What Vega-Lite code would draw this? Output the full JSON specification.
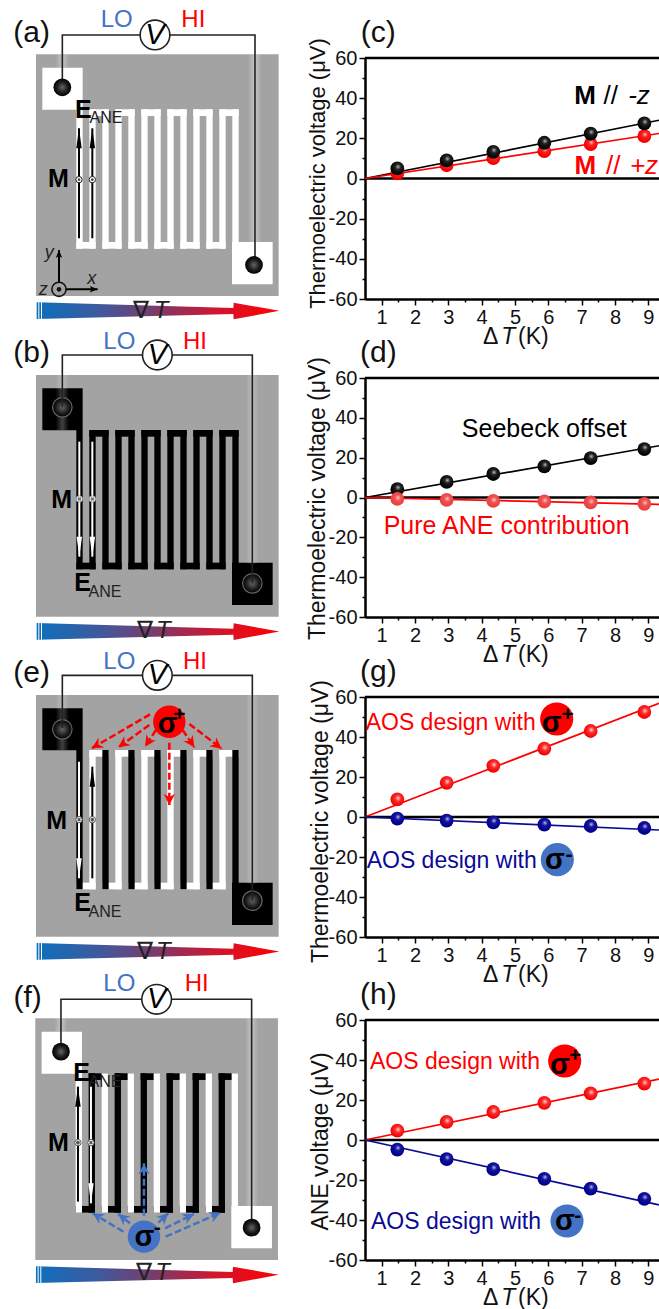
{"$schema":"https://vega.github.io/schema/vega-lite/v6.json","padding":0,"autosize":{"type":"pad"},"bounds":"flush","columns":2,"spacing":{"row":0,"column":65},"resolve":{"scale":{"color":"independent","fill":"independent","size":"independent","shape":"independent"}},
"config":{"font":"Liberation Sans","view":{"stroke":null},"legend":{"disable":true},"axis":{"grid":false,"domainColor":"#000","domainWidth":2.5,"tickColor":"#000","tickWidth":1.5,"labelFontSize":20,"labelColor":"#111","labelOverlap":false,"titleFontSize":23,"titleFontWeight":"normal","titleColor":"#111"}},
"datasets":{
"geom":[{"part":"sub","x":108,"x2":836,"y":135,"y2":860},{"part":"pad","x":127,"x2":248,"y":175,"y2":301},{"part":"pad","x":696,"x2":818,"y":698,"y2":825},
{"part":"conn","x":229,"x2":287,"y":698,"y2":718},{"part":"conn","x":307,"x2":365,"y":698,"y2":718},{"part":"conn","x":385,"x2":443,"y":698,"y2":718},{"part":"conn","x":463,"x2":521,"y":698,"y2":718},{"part":"conn","x":541,"x2":599,"y":698,"y2":718},{"part":"conn","x":619,"x2":677,"y":698,"y2":718},
{"part":"conn","x":268,"x2":326,"y":300,"y2":320},{"part":"conn","x":346,"x2":404,"y":300,"y2":320},{"part":"conn","x":424,"x2":482,"y":300,"y2":320},{"part":"conn","x":502,"x2":560,"y":300,"y2":320},{"part":"conn","x":580,"x2":638,"y":300,"y2":320},{"part":"conn","x":658,"x2":716,"y":300,"y2":320},
{"part":"even","x":229,"x2":248,"y":300,"y2":718},{"part":"odd","x":268,"x2":287,"y":300,"y2":718},{"part":"even","x":307,"x2":326,"y":300,"y2":718},{"part":"odd","x":346,"x2":365,"y":300,"y2":718},{"part":"even","x":385,"x2":404,"y":300,"y2":718},{"part":"odd","x":424,"x2":443,"y":300,"y2":718},{"part":"even","x":463,"x2":482,"y":300,"y2":718},{"part":"odd","x":502,"x2":521,"y":300,"y2":718},{"part":"even","x":541,"x2":560,"y":300,"y2":718},{"part":"odd","x":580,"x2":599,"y":300,"y2":718},{"part":"even","x":619,"x2":638,"y":300,"y2":718},{"part":"odd","x":658,"x2":677,"y":300,"y2":718},{"part":"even","x":697,"x2":716,"y":300,"y2":700}],
"halo":[{"panel":"a","x":167,"x2":207,"y":135,"y2":175},{"panel":"a","x":745,"x2":785,"y":135,"y2":702},{"panel":"b","x":167,"x2":207,"y":135,"y2":300},{"panel":"b","x":737,"x2":777,"y":135,"y2":700},{"panel":"e","x":167,"x2":207,"y":135,"y2":300},{"panel":"e","x":737,"x2":777,"y":135,"y2":700},{"panel":"f","x":165,"x2":205,"y":135,"y2":175},{"panel":"f","x":737,"x2":777,"y":135,"y2":700}],
"bar":[{"x":110,"y":879,"y2":929},{"x":700,"y":896,"y2":914},{"x":701,"y":880,"y2":930},{"x":838,"y":904.5,"y2":904.5}],
"stripes":[{"x":115,"x2":118,"y":879,"y2":929},{"x":123,"x2":126,"y":879,"y2":929}],
"wire":[{"panel":"a","o":1,"x":187,"y":234},{"panel":"a","o":2,"x":187,"y":77},{"panel":"a","o":3,"x":765,"y":77},{"panel":"a","o":4,"x":765,"y":767},{"panel":"b","o":1,"x":187,"y":232},{"panel":"b","o":2,"x":187,"y":75},{"panel":"b","o":3,"x":757,"y":75},{"panel":"b","o":4,"x":757,"y":760},{"panel":"e","o":1,"x":187,"y":234},{"panel":"e","o":2,"x":187,"y":76},{"panel":"e","o":3,"x":757,"y":76},{"panel":"e","o":4,"x":757,"y":752},{"panel":"f","o":1,"x":185,"y":235},{"panel":"f","o":2,"x":185,"y":78},{"panel":"f","o":3,"x":757,"y":78},{"panel":"f","o":4,"x":757,"y":763}],
"meter":[{"panel":"a","x":465,"y":77},{"panel":"b","x":472,"y":75},{"panel":"e","x":472,"y":76},{"panel":"f","x":472,"y":78}],
"terminals":[{"panel":"a","x":187,"y":234},{"panel":"a","x":762,"y":767},{"panel":"b","x":187,"y":232},{"panel":"b","x":757,"y":760},{"panel":"e","x":187,"y":238},{"panel":"e","x":757,"y":752},{"panel":"f","x":185,"y":235},{"panel":"f","x":757,"y":763}],
"moment":[{"panel":"a","kind":"black","x":237,"y":687,"x2":237,"y2":357,"angle":0},{"panel":"a","kind":"black","x":277,"y":687,"x2":277,"y2":357,"angle":0},{"panel":"b","kind":"white","x":238,"y":335,"x2":238,"y2":680,"angle":180},{"panel":"b","kind":"white","x":277,"y":335,"x2":277,"y2":680,"angle":180},{"panel":"e","kind":"white","x":237,"y":335,"x2":237,"y2":685,"angle":180},{"panel":"e","kind":"black","x":277,"y":685,"x2":277,"y2":350,"angle":0},{"panel":"f","kind":"black","x":236,"y":685,"x2":236,"y2":340,"angle":0},{"panel":"f","kind":"white","x":275,"y":340,"x2":275,"y2":690,"angle":180}],
"spins":[{"panel":"a","k":"dot","x":237,"y":511},{"panel":"a","k":"dot","x":277,"y":511},{"panel":"b","k":"cross","x":238,"y":507},{"panel":"b","k":"cross","x":277,"y":507},{"panel":"e","k":"cross","x":237,"y":509},{"panel":"e","k":"dot","x":277,"y":509},{"panel":"f","k":"dot","x":236,"y":508},{"panel":"f","k":"cross","x":275,"y":508}],
"frameAxes":[{"kind":"black","x":177,"y":840,"x2":177,"y2":722,"angle":0},{"kind":"black","x":177,"y":840,"x2":293,"y2":840,"angle":90}],
"beams":[{"panel":"e","kind":"red","x":450,"y":193,"x2":275,"y2":295,"angle":-120.2},{"panel":"e","kind":"red","x":448,"y":225,"x2":355,"y2":292,"angle":-125.8},{"panel":"e","kind":"red","x":468,"y":240,"x2":435,"y2":290,"angle":-146.6},{"panel":"e","kind":"red","x":548,"y":240,"x2":583,"y2":292,"angle":146},{"panel":"e","kind":"red","x":568,"y":222,"x2":665,"y2":296,"angle":127.3},{"panel":"e","kind":"red","x":508,"y":278,"x2":508,"y2":465,"angle":180},
{"panel":"f","kind":"blue","x":372,"y":775,"x2":280,"y2":720,"angle":-59.1},{"panel":"f","kind":"blue","x":392,"y":750,"x2":357,"y2":722,"angle":-51.3},{"panel":"f","kind":"blue","x":434,"y":727,"x2":434,"y2":570,"angle":0},{"panel":"f","kind":"blue","x":477,"y":748,"x2":507,"y2":720,"angle":47},{"panel":"f","kind":"blue","x":497,"y":765,"x2":584,"y2":722,"angle":63.7},{"panel":"f","kind":"blue","x":499,"y":790,"x2":664,"y2":718,"angle":66.4}],
"discs":[{"panel":"e","kind":"red","x":508,"y":215},{"panel":"f","kind":"blue","x":434,"y":790}],
"labels":[{"panel":"a","kind":"tag","x":95,"y":72,"label":"(a)"},{"panel":"a","kind":"lo","x":350,"y":32,"label":"LO"},{"panel":"a","kind":"hi","x":580,"y":32,"label":"HI"},{"panel":"a","kind":"sub","x":318,"y":327,"label":"ANE"},{"panel":"a","kind":"grad","x":424,"y":905,"label":"∇"},
{"panel":"b","kind":"tag","x":95,"y":70,"label":"(b)"},{"panel":"b","kind":"lo","x":358,"y":35,"label":"LO"},{"panel":"b","kind":"hi","x":585,"y":35,"label":"HI"},{"panel":"b","kind":"sub","x":315,"y":785,"label":"ANE"},{"panel":"b","kind":"grad","x":435,"y":903,"label":"∇"},
{"panel":"e","kind":"tag","x":95,"y":70,"label":"(e)"},{"panel":"e","kind":"lo","x":358,"y":35,"label":"LO"},{"panel":"e","kind":"hi","x":585,"y":35,"label":"HI"},{"panel":"e","kind":"sub","x":315,"y":785,"label":"ANE"},{"panel":"e","kind":"grad","x":435,"y":905,"label":"∇"},
{"panel":"f","kind":"tag","x":85,"y":75,"label":"(f)"},{"panel":"f","kind":"lo","x":360,"y":32,"label":"LO"},{"panel":"f","kind":"hi","x":592,"y":32,"label":"HI"},{"panel":"f","kind":"sub","x":317,"y":325,"label":"ANE"},{"panel":"f","kind":"grad","x":433,"y":900,"label":"∇"}],
"labelsItalic":[{"panel":"a","kind":"v","x":465,"y":77,"label":"V"},{"panel":"a","kind":"grad","x":483,"y":905,"label":"T"},{"panel":"a","kind":"ax","x":148,"y":732,"label":"y"},{"panel":"a","kind":"ax","x":275,"y":810,"label":"x"},{"panel":"a","kind":"ax","x":130,"y":842,"label":"z"},
{"panel":"b","kind":"v","x":472,"y":75,"label":"V"},{"panel":"b","kind":"grad","x":490,"y":903,"label":"T"},
{"panel":"e","kind":"v","x":472,"y":76,"label":"V"},{"panel":"e","kind":"grad","x":490,"y":905,"label":"T"},
{"panel":"f","kind":"v","x":472,"y":78,"label":"V"},{"panel":"f","kind":"grad","x":490,"y":900,"label":"T"}],
"labelsBold":[{"panel":"a","kind":"big","x":175,"y":509,"label":"M"},{"panel":"a","kind":"big","x":250,"y":302,"label":"E"},{"panel":"b","kind":"big","x":185,"y":510,"label":"M"},{"panel":"b","kind":"big","x":248,"y":758,"label":"E"},{"panel":"e","kind":"big","x":170,"y":512,"label":"M"},{"panel":"e","kind":"big","x":248,"y":758,"label":"E"},{"panel":"e","kind":"sigma","x":503,"y":222,"label":"σ"},{"panel":"e","kind":"sup","x":538,"y":195,"label":"+"},{"panel":"f","kind":"big","x":177,"y":510,"label":"M"},{"panel":"f","kind":"big","x":247,"y":300,"label":"E"},{"panel":"f","kind":"sigma","x":435,"y":790,"label":"σ"},{"panel":"f","kind":"sup","x":474,"y":765,"label":"-"}],
"edges":[{"dT":0.5,"v":60},{"dT":9.32,"v":60},{"dT":0.5,"v":0},{"dT":9.32,"v":0}],
"fits":[{"panel":"c","series":"M // -z","dT":0.5,"v":0},{"panel":"c","series":"M // -z","dT":9.32,"v":29},{"panel":"c","series":"M // +z","dT":0.5,"v":0},{"panel":"c","series":"M // +z","dT":9.32,"v":22.4},{"panel":"d","series":"Seebeck offset","dT":0.5,"v":0},{"panel":"d","series":"Seebeck offset","dT":9.32,"v":26},{"panel":"d","series":"Pure ANE contribution","dT":0.5,"v":0},{"panel":"d","series":"Pure ANE contribution","dT":9.32,"v":-3.5},{"panel":"g","series":"sigma+","dT":0.5,"v":0},{"panel":"g","series":"sigma+","dT":9.32,"v":56.8},{"panel":"g","series":"sigma-","dT":0.5,"v":0},{"panel":"g","series":"sigma-","dT":9.32,"v":-6.5},{"panel":"h","series":"sigma+","dT":0.5,"v":0},{"panel":"h","series":"sigma+","dT":9.32,"v":30.4},{"panel":"h","series":"sigma-","dT":0.5,"v":0},{"panel":"h","series":"sigma-","dT":9.32,"v":-32.4}],
"pts":[{"panel":"c","series":"M // -z","dT":1.47,"v":5},{"panel":"c","series":"M // -z","dT":2.95,"v":9},{"panel":"c","series":"M // -z","dT":4.35,"v":13.3},{"panel":"c","series":"M // -z","dT":5.88,"v":17.8},{"panel":"c","series":"M // -z","dT":7.27,"v":22.3},{"panel":"c","series":"M // -z","dT":8.88,"v":27.4},
{"panel":"c","series":"M // +z","dT":1.47,"v":2.6},{"panel":"c","series":"M // +z","dT":2.95,"v":6.6},{"panel":"c","series":"M // +z","dT":4.35,"v":10.1},{"panel":"c","series":"M // +z","dT":5.88,"v":13.6},{"panel":"c","series":"M // +z","dT":7.27,"v":17.1},{"panel":"c","series":"M // +z","dT":8.88,"v":21.1},
{"panel":"d","series":"Seebeck offset","dT":1.47,"v":4.2},{"panel":"d","series":"Seebeck offset","dT":2.95,"v":7.8},{"panel":"d","series":"Seebeck offset","dT":4.35,"v":11.8},{"panel":"d","series":"Seebeck offset","dT":5.88,"v":15.6},{"panel":"d","series":"Seebeck offset","dT":7.27,"v":19.8},{"panel":"d","series":"Seebeck offset","dT":8.88,"v":24.3},
{"panel":"d","series":"Pure ANE contribution","dT":1.47,"v":-0.7},{"panel":"d","series":"Pure ANE contribution","dT":2.95,"v":-1.2},{"panel":"d","series":"Pure ANE contribution","dT":4.35,"v":-1.7},{"panel":"d","series":"Pure ANE contribution","dT":5.88,"v":-2},{"panel":"d","series":"Pure ANE contribution","dT":7.27,"v":-2.5},{"panel":"d","series":"Pure ANE contribution","dT":8.88,"v":-3.2},
{"panel":"g","series":"sigma+","dT":1.47,"v":8.8},{"panel":"g","series":"sigma+","dT":2.95,"v":17.1},{"panel":"g","series":"sigma+","dT":4.35,"v":25.6},{"panel":"g","series":"sigma+","dT":5.88,"v":34.2},{"panel":"g","series":"sigma+","dT":7.27,"v":43},{"panel":"g","series":"sigma+","dT":8.88,"v":52.5},
{"panel":"g","series":"sigma-","dT":1.47,"v":-0.8},{"panel":"g","series":"sigma-","dT":2.95,"v":-1.8},{"panel":"g","series":"sigma-","dT":4.35,"v":-2.7},{"panel":"g","series":"sigma-","dT":5.88,"v":-3.8},{"panel":"g","series":"sigma-","dT":7.27,"v":-4.5},{"panel":"g","series":"sigma-","dT":8.88,"v":-5.5},
{"panel":"h","series":"sigma+","dT":1.47,"v":4.7},{"panel":"h","series":"sigma+","dT":2.95,"v":9.1},{"panel":"h","series":"sigma+","dT":4.35,"v":14},{"panel":"h","series":"sigma+","dT":5.88,"v":18.6},{"panel":"h","series":"sigma+","dT":7.27,"v":23.3},{"panel":"h","series":"sigma+","dT":8.88,"v":28.2},
{"panel":"h","series":"sigma-","dT":1.47,"v":-4.8},{"panel":"h","series":"sigma-","dT":2.95,"v":-9.6},{"panel":"h","series":"sigma-","dT":4.35,"v":-14.6},{"panel":"h","series":"sigma-","dT":5.88,"v":-19.4},{"panel":"h","series":"sigma-","dT":7.27,"v":-24.3},{"panel":"h","series":"sigma-","dT":8.88,"v":-29.4}],
"xTitle":[{"dT":4.27,"v":-79,"label":"Δ"},{"dT":5.55,"v":-79,"label":"(K)"}],
"xTitleT":[{"dT":4.8,"v":-79,"label":"T"}]
},
"concat":[
{"width":300,"height":299,"encoding":{"x":{"field":"x","type":"quantitative","axis":null,"scale":{"domain":[0,900],"range":[0,300],"nice":false,"zero":false}},"y":{"field":"y","type":"quantitative","axis":null,"scale":{"domain":[0,960],"range":[9.3,329.3],"nice":false,"zero":false}},"size":{"field":"kind","type":"nominal","scale":{"type":"ordinal","domain":["tag","lo","hi","sub","big","v","ax","grad","sigma","sup"],"range":[30,24,24,16,25,29,18,24,29,21]}}},
"layer":[
{"data":{"name":"geom"},"mark":"rect","encoding":{"size":null,"x2":{"field":"x2"},"y2":{"field":"y2"},"fill":{"field":"part","type":"nominal","scale":{"domain":["sub","pad","conn","even","odd"],"range":["#a3a3a3","#fff","#fff","#fff","#fff"]}}}},
{"data":{"name":"halo"},"transform":[{"filter":"datum.panel=='a'"}],"mark":{"type":"rect","color":{"gradient":"linear","x1":0,"x2":1,"y1":0,"y2":0,"stops":[{"offset":0,"color":"rgba(255,255,255,0)"},{"offset":0.5,"color":"rgba(255,255,255,0.35)"},{"offset":1,"color":"rgba(255,255,255,0)"}]}},"encoding":{"size":null,"x2":{"field":"x2"},"y2":{"field":"y2"}}},
{"data":{"name":"bar"},"mark":{"type":"area","color":{"gradient":"linear","x1":0,"x2":1,"y1":0,"y2":0,"stops":[{"offset":0,"color":"#0c70bd"},{"offset":0.25,"color":"#3d5a9f"},{"offset":0.5,"color":"#7d3a68"},{"offset":0.75,"color":"#d4142c"},{"offset":1,"color":"#ff0000"}]}},"encoding":{"size":null,"y2":{"field":"y2"}}},
{"data":{"name":"stripes"},"mark":{"type":"rect","color":"#fff"},"encoding":{"size":null,"x2":{"field":"x2"},"y2":{"field":"y2"}}},
{"data":{"name":"wire"},"transform":[{"filter":"datum.panel=='a'"}],"mark":{"type":"line","color":"#222","strokeWidth":1.6},"encoding":{"size":null,"order":{"field":"o"}}},
{"data":{"name":"meter"},"transform":[{"filter":"datum.panel=='a'"}],"mark":{"type":"circle","size":880,"fill":"#fff","stroke":"#222","strokeWidth":1.6,"opacity":1},"encoding":{"size":null}},
{"data":{"name":"terminals"},"transform":[{"filter":"datum.panel=='a'"}],"mark":{"type":"circle","size":314,"opacity":1,"fill":{"gradient":"radial","x1":0.5,"y1":0.5,"x2":0.5,"y2":0.5,"r1":0,"r2":0.5,"stops":[{"offset":0,"color":"#666"},{"offset":0.55,"color":"#222"},{"offset":1,"color":"#000"}]}},"encoding":{"size":null}},
{"data":{"name":"moment"},"transform":[{"filter":"datum.panel=='a'"}],"mark":{"type":"rule","strokeWidth":2},"encoding":{"size":null,"x2":{"field":"x2"},"y2":{"field":"y2"},"color":{"field":"kind","type":"nominal"}}},
{"data":{"name":"moment"},"transform":[{"filter":"datum.panel=='a'"}],"mark":{"type":"point","shape":"M0,0L0.27,2L-0.27,2Z","filled":true,"opacity":1,"size":400},"encoding":{"size":null,"x":{"field":"x2","type":"quantitative","axis":null},"y":{"field":"y2","type":"quantitative","axis":null},"angle":{"field":"angle","type":"quantitative","scale":null},"color":{"field":"kind","type":"nominal"}}},
{"data":{"name":"spins"},"transform":[{"filter":"datum.panel=='a'"}],"mark":{"type":"circle","size":40,"fill":"#fff","stroke":"#222","strokeWidth":1,"opacity":1},"encoding":{"size":null}},
{"data":{"name":"spins"},"transform":[{"filter":"datum.panel=='a'"}],"mark":{"type":"point","size":7,"filled":true,"opacity":1,"color":"#333","angle":45},"encoding":{"size":null,"shape":{"field":"k","type":"nominal","scale":{"domain":["dot","cross"],"range":["circle","cross"]}}}},
{"data":{"name":"frameAxes"},"mark":{"type":"rule","strokeWidth":2},"encoding":{"size":null,"x2":{"field":"x2"},"y2":{"field":"y2"},"color":{"field":"kind","type":"nominal"}}},
{"data":{"name":"frameAxes"},"mark":{"type":"point","shape":"M0,0L0.8,2L0,1.5L-0.8,2Z","filled":true,"opacity":1,"size":64},"encoding":{"size":null,"x":{"field":"x2","type":"quantitative","axis":null},"y":{"field":"y2","type":"quantitative","axis":null},"angle":{"field":"angle","type":"quantitative","scale":null},"color":{"field":"kind","type":"nominal"}}},
{"data":{"values":[{"x":177,"y":840}]},"mark":{"type":"circle","size":200,"fill":"#a3a3a3","stroke":"#111","strokeWidth":1.6,"opacity":1},"encoding":{"size":null}},
{"data":{"values":[{"x":177,"y":840}]},"mark":{"type":"circle","size":22,"color":"#111","opacity":1},"encoding":{"size":null}},
{"data":{"name":"labels"},"transform":[{"filter":"datum.panel=='a'"}],"mark":{"type":"text","baseline":"middle"},"encoding":{"text":{"field":"label"},"color":{"field":"kind","type":"nominal","scale":{"domain":["tag","lo","hi","sub","big","v","ax","grad","sigma","sup","black","white","red","blue"],"range":["#111","#4472c4","#ff0000","#222","#000","#000","#222","#222","#000","#000","#000","#fff","#ff0000","#4472c4"]}}}},
{"data":{"name":"labelsItalic"},"transform":[{"filter":"datum.panel=='a'"}],"mark":{"type":"text","baseline":"middle","fontStyle":"italic"},"encoding":{"text":{"field":"label"},"color":{"field":"kind","type":"nominal"}}},
{"data":{"name":"labelsBold"},"transform":[{"filter":"datum.panel=='a'"}],"mark":{"type":"text","baseline":"middle","fontWeight":"bold"},"encoding":{"text":{"field":"label"},"color":{"field":"kind","type":"nominal"}}}
]},
{"width":294,"height":299,"encoding":{"x":{"field":"dT","type":"quantitative","scale":{"domain":[0.5,9.32],"nice":false,"zero":false},"axis":{"title":null,"values":[1,1.5,2,2.5,3,3.5,4,4.5,5,5.5,6,6.5,7,7.5,8,8.5,9],"labelExpr":"datum.value%1===0?toString(datum.value):''","tickSize":{"condition":{"test":"datum.value%1!==0","value":3},"value":6}}},"y":{"field":"v","type":"quantitative","scale":{"domain":[-60,60],"range":[299,58],"nice":false,"zero":false},"axis":{"title":"Thermoelectric voltage (μV)","titleFontSize":22,"titleBaseline":"middle","titleX":-48,"titleY":173,"values":[-60,-50,-40,-30,-20,-10,0,10,20,30,40,50,60],"labelExpr":"datum.value%20===0?toString(datum.value):''","tickSize":{"condition":{"test":"datum.value%20!==0","value":3},"value":6}}}},
"layer":[
{"data":{"name":"edges"},"mark":{"type":"line","color":"#000","strokeWidth":2.5},"encoding":{"detail":{"field":"v","type":"quantitative"}}},
{"data":{"name":"fits"},"transform":[{"filter":"datum.panel=='c'"}],"mark":{"type":"line","strokeWidth":1.7},"encoding":{"color":{"field":"series","type":"nominal","scale":{"domain":["M // -z","M // +z"],"range":["#000","#ff0000"]}}}},
{"data":{"name":"pts"},"transform":[{"filter":"datum.panel=='c'&&datum.series=='M // +z'"}],"mark":{"type":"circle","size":190,"opacity":1,"fill":{"gradient":"radial","x1":0.55,"y1":0.38,"x2":0.55,"y2":0.38,"r1":0,"r2":0.55,"stops":[{"offset":0,"color":"#ffd0d0"},{"offset":0.35,"color":"#ff2020"},{"offset":1,"color":"#f00000"}]}}},
{"data":{"name":"pts"},"transform":[{"filter":"datum.panel=='c'&&datum.series=='M // -z'"}],"mark":{"type":"circle","size":190,"opacity":1,"fill":{"gradient":"radial","x1":0.55,"y1":0.38,"x2":0.55,"y2":0.38,"r1":0,"r2":0.55,"stops":[{"offset":0,"color":"#c0c0c0"},{"offset":0.35,"color":"#222"},{"offset":1,"color":"#000"}]}}},
{"data":{"values":[{"dT":0.9,"v":72.6,"label":"(c)"}]},"mark":{"type":"text","fontSize":30,"baseline":"middle","color":"#111"},"encoding":{"text":{"field":"label"}}},
{"data":{"name":"xTitle"},"mark":{"type":"text","fontSize":23,"baseline":"middle","color":"#111"},"encoding":{"text":{"field":"label"}}},
{"data":{"name":"xTitleT"},"mark":{"type":"text","fontSize":23,"baseline":"middle","fontStyle":"italic","color":"#111"},"encoding":{"text":{"field":"label"}}},
{"data":{"values":[{"dT":7.1,"v":41,"label":"M","series":"M // -z"},{"dT":7.11,"v":6.1,"label":"M","series":"M // +z"}]},"mark":{"type":"text","fontSize":26,"fontWeight":"bold","baseline":"middle"},"encoding":{"text":{"field":"label"},"color":{"field":"series","type":"nominal"}}},
{"data":{"values":[{"dT":7.87,"v":41,"label":"//","series":"M // -z"},{"dT":7.95,"v":6.1,"label":"//","series":"M // +z"}]},"mark":{"type":"text","fontSize":26,"baseline":"middle"},"encoding":{"text":{"field":"label"},"color":{"field":"series","type":"nominal"}}},
{"data":{"values":[{"dT":8.72,"v":41,"label":"-z","series":"M // -z"},{"dT":8.87,"v":6.1,"label":"+z","series":"M // +z"}]},"mark":{"type":"text","fontSize":26,"fontStyle":"italic","baseline":"middle"},"encoding":{"text":{"field":"label"},"color":{"field":"series","type":"nominal"}}}
]},
{"width":300,"height":318,"encoding":{"x":{"field":"x","type":"quantitative","axis":null,"scale":{"domain":[0,900],"range":[0,300],"nice":false,"zero":false}},"y":{"field":"y","type":"quantitative","axis":null,"scale":{"domain":[0,960],"range":[31,351],"nice":false,"zero":false}},"size":{"field":"kind","type":"nominal","scale":{"type":"ordinal","domain":["tag","lo","hi","sub","big","v","ax","grad","sigma","sup"],"range":[30,24,24,16,25,29,18,24,29,21]}}},
"layer":[
{"data":{"name":"geom"},"mark":"rect","encoding":{"size":null,"x2":{"field":"x2"},"y2":{"field":"y2"},"fill":{"field":"part","type":"nominal","scale":{"domain":["sub","pad","conn","even","odd"],"range":["#a3a3a3","#000","#000","#000","#000"]}}}},
{"data":{"name":"halo"},"transform":[{"filter":"datum.panel=='b'"}],"mark":{"type":"rect","color":{"gradient":"linear","x1":0,"x2":1,"y1":0,"y2":0,"stops":[{"offset":0,"color":"rgba(255,255,255,0)"},{"offset":0.5,"color":"rgba(255,255,255,0.25)"},{"offset":1,"color":"rgba(255,255,255,0)"}]}},"encoding":{"size":null,"x2":{"field":"x2"},"y2":{"field":"y2"}}},
{"data":{"name":"bar"},"mark":{"type":"area","color":{"gradient":"linear","x1":0,"x2":1,"y1":0,"y2":0,"stops":[{"offset":0,"color":"#0c70bd"},{"offset":0.25,"color":"#3d5a9f"},{"offset":0.5,"color":"#7d3a68"},{"offset":0.75,"color":"#d4142c"},{"offset":1,"color":"#ff0000"}]}},"encoding":{"size":null,"y2":{"field":"y2"}}},
{"data":{"name":"stripes"},"mark":{"type":"rect","color":"#fff"},"encoding":{"size":null,"x2":{"field":"x2"},"y2":{"field":"y2"}}},
{"data":{"name":"terminals"},"transform":[{"filter":"datum.panel=='b'"}],"mark":{"type":"circle","size":380,"opacity":1,"stroke":"#666","strokeWidth":1.2,"fill":{"gradient":"radial","x1":0.5,"y1":0.5,"x2":0.5,"y2":0.5,"r1":0,"r2":0.5,"stops":[{"offset":0,"color":"#666"},{"offset":0.6,"color":"#222"},{"offset":1,"color":"#000"}]}},"encoding":{"size":null}},
{"data":{"name":"wire"},"transform":[{"filter":"datum.panel=='b'"}],"mark":{"type":"line","color":"#222","strokeWidth":1.6},"encoding":{"size":null,"order":{"field":"o"}}},
{"data":{"name":"meter"},"transform":[{"filter":"datum.panel=='b'"}],"mark":{"type":"circle","size":880,"fill":"#fff","stroke":"#222","strokeWidth":1.6,"opacity":1},"encoding":{"size":null}},
{"data":{"name":"moment"},"transform":[{"filter":"datum.panel=='b'"}],"mark":{"type":"rule","strokeWidth":2},"encoding":{"size":null,"x2":{"field":"x2"},"y2":{"field":"y2"},"color":{"field":"kind","type":"nominal"}}},
{"data":{"name":"moment"},"transform":[{"filter":"datum.panel=='b'"}],"mark":{"type":"point","shape":"M0,0L0.27,2L-0.27,2Z","filled":true,"opacity":1,"size":400},"encoding":{"size":null,"x":{"field":"x2","type":"quantitative","axis":null},"y":{"field":"y2","type":"quantitative","axis":null},"angle":{"field":"angle","type":"quantitative","scale":null},"color":{"field":"kind","type":"nominal"}}},
{"data":{"name":"spins"},"transform":[{"filter":"datum.panel=='b'"}],"mark":{"type":"circle","size":40,"fill":"#fff","stroke":"#999","strokeWidth":1,"opacity":1},"encoding":{"size":null}},
{"data":{"name":"spins"},"transform":[{"filter":"datum.panel=='b'"}],"mark":{"type":"point","size":16,"filled":true,"opacity":1,"color":"#777","angle":45},"encoding":{"size":null,"shape":{"field":"k","type":"nominal","scale":{"domain":["dot","cross"],"range":["circle","cross"]}}}},
{"data":{"name":"labels"},"transform":[{"filter":"datum.panel=='b'"}],"mark":{"type":"text","baseline":"middle"},"encoding":{"text":{"field":"label"},"color":{"field":"kind","type":"nominal","scale":{"domain":["tag","lo","hi","sub","big","v","ax","grad","sigma","sup","black","white","red","blue"],"range":["#111","#4472c4","#ff0000","#222","#000","#000","#222","#222","#000","#000","#000","#fff","#ff0000","#4472c4"]}}}},
{"data":{"name":"labelsItalic"},"transform":[{"filter":"datum.panel=='b'"}],"mark":{"type":"text","baseline":"middle","fontStyle":"italic"},"encoding":{"text":{"field":"label"},"color":{"field":"kind","type":"nominal"}}},
{"data":{"name":"labelsBold"},"transform":[{"filter":"datum.panel=='b'"}],"mark":{"type":"text","baseline":"middle","fontWeight":"bold"},"encoding":{"text":{"field":"label"},"color":{"field":"kind","type":"nominal"}}}
]},
{"width":294,"height":318,"encoding":{"x":{"field":"dT","type":"quantitative","scale":{"domain":[0.5,9.32],"nice":false,"zero":false},"axis":{"title":null,"values":[1,1.5,2,2.5,3,3.5,4,4.5,5,5.5,6,6.5,7,7.5,8,8.5,9],"labelExpr":"datum.value%1===0?toString(datum.value):''","tickSize":{"condition":{"test":"datum.value%1!==0","value":3},"value":6}}},"y":{"field":"v","type":"quantitative","scale":{"domain":[-60,60],"range":[318,79],"nice":false,"zero":false},"axis":{"title":"Thermoelectric voltage (μV)","titleBaseline":"middle","titleX":-48,"titleY":199,"values":[-60,-50,-40,-30,-20,-10,0,10,20,30,40,50,60],"labelExpr":"datum.value%20===0?toString(datum.value):''","tickSize":{"condition":{"test":"datum.value%20!==0","value":3},"value":6}}}},
"layer":[
{"data":{"name":"edges"},"mark":{"type":"line","color":"#000","strokeWidth":2.5},"encoding":{"detail":{"field":"v","type":"quantitative"}}},
{"data":{"name":"fits"},"transform":[{"filter":"datum.panel=='d'"}],"mark":{"type":"line","strokeWidth":1.7},"encoding":{"color":{"field":"series","type":"nominal","scale":{"domain":["Seebeck offset","Pure ANE contribution"],"range":["#000","#ff0000"]}}}},
{"data":{"name":"pts"},"transform":[{"filter":"datum.panel=='d'&&datum.series=='Seebeck offset'"}],"mark":{"type":"circle","size":190,"opacity":1,"fill":{"gradient":"radial","x1":0.55,"y1":0.38,"x2":0.55,"y2":0.38,"r1":0,"r2":0.55,"stops":[{"offset":0,"color":"#c0c0c0"},{"offset":0.35,"color":"#222"},{"offset":1,"color":"#000"}]}}},
{"data":{"name":"pts"},"transform":[{"filter":"datum.panel=='d'&&datum.series=='Pure ANE contribution'"}],"mark":{"type":"circle","size":190,"opacity":1,"fill":{"gradient":"radial","x1":0.55,"y1":0.42,"x2":0.55,"y2":0.42,"r1":0,"r2":0.55,"stops":[{"offset":0,"color":"#ffc8c8"},{"offset":0.4,"color":"#f05050"},{"offset":1,"color":"#e84040"}]}}},
{"data":{"values":[{"dT":0.9,"v":72.6,"label":"(d)"}]},"mark":{"type":"text","fontSize":30,"baseline":"middle","color":"#111"},"encoding":{"text":{"field":"label"}}},
{"data":{"name":"xTitle"},"mark":{"type":"text","fontSize":23,"baseline":"middle","color":"#111"},"encoding":{"text":{"field":"label"}}},
{"data":{"name":"xTitleT"},"mark":{"type":"text","fontSize":23,"baseline":"middle","fontStyle":"italic","color":"#111"},"encoding":{"text":{"field":"label"}}},
{"data":{"values":[{"dT":5.88,"v":34.4,"label":"Seebeck offset","series":"Seebeck offset"},{"dT":4.75,"v":-14.3,"label":"Pure ANE contribution","series":"Pure ANE contribution"}]},"mark":{"type":"text","fontSize":25,"baseline":"middle"},"encoding":{"text":{"field":"label"},"color":{"field":"series","type":"nominal"}}}
]},
{"width":300,"height":320,"encoding":{"x":{"field":"x","type":"quantitative","axis":null,"scale":{"domain":[0,900],"range":[0,300],"nice":false,"zero":false}},"y":{"field":"y","type":"quantitative","axis":null,"scale":{"domain":[0,960],"range":[33,353],"nice":false,"zero":false}},"size":{"field":"kind","type":"nominal","scale":{"type":"ordinal","domain":["tag","lo","hi","sub","big","v","ax","grad","sigma","sup"],"range":[30,24,24,16,25,29,18,24,29,21]}}},
"layer":[
{"data":{"name":"geom"},"mark":"rect","encoding":{"size":null,"x2":{"field":"x2"},"y2":{"field":"y2"},"fill":{"field":"part","type":"nominal","scale":{"domain":["sub","pad","conn","even","odd"],"range":["#a3a3a3","#000","#fff","#000","#fff"]}}}},
{"data":{"name":"halo"},"transform":[{"filter":"datum.panel=='e'"}],"mark":{"type":"rect","color":{"gradient":"linear","x1":0,"x2":1,"y1":0,"y2":0,"stops":[{"offset":0,"color":"rgba(255,255,255,0)"},{"offset":0.5,"color":"rgba(255,255,255,0.25)"},{"offset":1,"color":"rgba(255,255,255,0)"}]}},"encoding":{"size":null,"x2":{"field":"x2"},"y2":{"field":"y2"}}},
{"data":{"name":"bar"},"mark":{"type":"area","color":{"gradient":"linear","x1":0,"x2":1,"y1":0,"y2":0,"stops":[{"offset":0,"color":"#0c70bd"},{"offset":0.25,"color":"#3d5a9f"},{"offset":0.5,"color":"#7d3a68"},{"offset":0.75,"color":"#d4142c"},{"offset":1,"color":"#ff0000"}]}},"encoding":{"size":null,"y2":{"field":"y2"}}},
{"data":{"name":"stripes"},"mark":{"type":"rect","color":"#fff"},"encoding":{"size":null,"x2":{"field":"x2"},"y2":{"field":"y2"}}},
{"data":{"name":"terminals"},"transform":[{"filter":"datum.panel=='e'"}],"mark":{"type":"circle","size":380,"opacity":1,"stroke":"#666","strokeWidth":1.2,"fill":{"gradient":"radial","x1":0.5,"y1":0.5,"x2":0.5,"y2":0.5,"r1":0,"r2":0.5,"stops":[{"offset":0,"color":"#666"},{"offset":0.6,"color":"#222"},{"offset":1,"color":"#000"}]}},"encoding":{"size":null}},
{"data":{"name":"wire"},"transform":[{"filter":"datum.panel=='e'"}],"mark":{"type":"line","color":"#222","strokeWidth":1.6},"encoding":{"size":null,"order":{"field":"o"}}},
{"data":{"name":"meter"},"transform":[{"filter":"datum.panel=='e'"}],"mark":{"type":"circle","size":880,"fill":"#fff","stroke":"#222","strokeWidth":1.6,"opacity":1},"encoding":{"size":null}},
{"data":{"name":"moment"},"transform":[{"filter":"datum.panel=='e'"}],"mark":{"type":"rule","strokeWidth":2},"encoding":{"size":null,"x2":{"field":"x2"},"y2":{"field":"y2"},"color":{"field":"kind","type":"nominal"}}},
{"data":{"name":"moment"},"transform":[{"filter":"datum.panel=='e'"}],"mark":{"type":"point","shape":"M0,0L0.27,2L-0.27,2Z","filled":true,"opacity":1,"size":400},"encoding":{"size":null,"x":{"field":"x2","type":"quantitative","axis":null},"y":{"field":"y2","type":"quantitative","axis":null},"angle":{"field":"angle","type":"quantitative","scale":null},"color":{"field":"kind","type":"nominal"}}},
{"data":{"name":"spins"},"transform":[{"filter":"datum.panel=='e'"}],"mark":{"type":"circle","size":40,"fill":"#fff","stroke":"#555","strokeWidth":1,"opacity":1},"encoding":{"size":null}},
{"data":{"name":"spins"},"transform":[{"filter":"datum.panel=='e'"}],"mark":{"type":"point","size":14,"filled":true,"opacity":1,"color":"#555","angle":45},"encoding":{"size":null,"shape":{"field":"k","type":"nominal","scale":{"domain":["dot","cross"],"range":["circle","cross"]}}}},
{"data":{"name":"beams"},"transform":[{"filter":"datum.panel=='e'"}],"mark":{"type":"rule","strokeWidth":2.5,"strokeDash":[7,3]},"encoding":{"size":null,"x2":{"field":"x2"},"y2":{"field":"y2"},"color":{"field":"kind","type":"nominal"}}},
{"data":{"name":"beams"},"transform":[{"filter":"datum.panel=='e'"}],"mark":{"type":"point","shape":"M0,0L0.8,1.6L0,1.1L-0.8,1.6Z","filled":true,"opacity":1,"size":200},"encoding":{"size":null,"x":{"field":"x2","type":"quantitative","axis":null},"y":{"field":"y2","type":"quantitative","axis":null},"angle":{"field":"angle","type":"quantitative","scale":null},"color":{"field":"kind","type":"nominal"}}},
{"data":{"name":"discs"},"transform":[{"filter":"datum.panel=='e'"}],"mark":{"type":"circle","size":1052,"opacity":1},"encoding":{"size":null,"color":{"field":"kind","type":"nominal"}}},
{"data":{"name":"labels"},"transform":[{"filter":"datum.panel=='e'"}],"mark":{"type":"text","baseline":"middle"},"encoding":{"text":{"field":"label"},"color":{"field":"kind","type":"nominal","scale":{"domain":["tag","lo","hi","sub","big","v","ax","grad","sigma","sup","black","white","red","blue"],"range":["#111","#4472c4","#ff0000","#222","#000","#000","#222","#222","#000","#000","#000","#fff","#ff0000","#4472c4"]}}}},
{"data":{"name":"labelsItalic"},"transform":[{"filter":"datum.panel=='e'"}],"mark":{"type":"text","baseline":"middle","fontStyle":"italic"},"encoding":{"text":{"field":"label"},"color":{"field":"kind","type":"nominal"}}},
{"data":{"name":"labelsBold"},"transform":[{"filter":"datum.panel=='e'"}],"mark":{"type":"text","baseline":"middle","fontWeight":"bold"},"encoding":{"text":{"field":"label"},"color":{"field":"kind","type":"nominal"}}}
]},
{"width":294,"height":320,"encoding":{"x":{"field":"dT","type":"quantitative","scale":{"domain":[0.5,9.32],"nice":false,"zero":false},"axis":{"title":null,"values":[1,1.5,2,2.5,3,3.5,4,4.5,5,5.5,6,6.5,7,7.5,8,8.5,9],"labelExpr":"datum.value%1===0?toString(datum.value):''","tickSize":{"condition":{"test":"datum.value%1!==0","value":3},"value":6}}},"y":{"field":"v","type":"quantitative","scale":{"domain":[-60,60],"range":[320,80],"nice":false,"zero":false},"axis":{"title":"Thermoelectric voltage (μV)","titleBaseline":"middle","titleX":-45,"titleY":204,"values":[-60,-50,-40,-30,-20,-10,0,10,20,30,40,50,60],"labelExpr":"datum.value%20===0?toString(datum.value):''","tickSize":{"condition":{"test":"datum.value%20!==0","value":3},"value":6}}}},
"layer":[
{"data":{"name":"edges"},"mark":{"type":"line","color":"#000","strokeWidth":2.5},"encoding":{"detail":{"field":"v","type":"quantitative"}}},
{"data":{"name":"fits"},"transform":[{"filter":"datum.panel=='g'"}],"mark":{"type":"line","strokeWidth":1.7},"encoding":{"color":{"field":"series","type":"nominal","scale":{"domain":["sigma+","sigma-"],"range":["#ff0000","#0a0a96"]}}}},
{"data":{"name":"pts"},"transform":[{"filter":"datum.panel=='g'&&datum.series=='sigma+'"}],"mark":{"type":"circle","size":190,"opacity":1,"fill":{"gradient":"radial","x1":0.55,"y1":0.42,"x2":0.55,"y2":0.42,"r1":0,"r2":0.55,"stops":[{"offset":0,"color":"#ffd8d8"},{"offset":0.4,"color":"#ff2a2a"},{"offset":1,"color":"#f00000"}]}}},
{"data":{"name":"pts"},"transform":[{"filter":"datum.panel=='g'&&datum.series=='sigma-'"}],"mark":{"type":"circle","size":190,"opacity":1,"fill":{"gradient":"radial","x1":0.55,"y1":0.38,"x2":0.55,"y2":0.38,"r1":0,"r2":0.55,"stops":[{"offset":0,"color":"#c8c8f0"},{"offset":0.35,"color":"#14149c"},{"offset":1,"color":"#00008b"}]}}},
{"data":{"values":[{"dT":6.25,"v":49}]},"mark":{"type":"circle","size":1098,"opacity":1,"color":"#ff0000"}},
{"data":{"values":[{"dT":6.27,"v":-21.3}]},"mark":{"type":"circle","size":1098,"opacity":1,"color":"#4472c4"}},
{"data":{"values":[{"dT":0.9,"v":72.6,"label":"(g)"}]},"mark":{"type":"text","fontSize":30,"baseline":"middle","color":"#111"},"encoding":{"text":{"field":"label"}}},
{"data":{"name":"xTitle"},"mark":{"type":"text","fontSize":23,"baseline":"middle","color":"#111"},"encoding":{"text":{"field":"label"}}},
{"data":{"name":"xTitleT"},"mark":{"type":"text","fontSize":23,"baseline":"middle","fontStyle":"italic","color":"#111"},"encoding":{"text":{"field":"label"}}},
{"data":{"values":[{"dT":3.07,"v":47.2,"label":"AOS design with","series":"sigma+"},{"dT":3.1,"v":-21.9,"label":"AOS design with","series":"sigma-"}]},"mark":{"type":"text","fontSize":23,"baseline":"middle"},"encoding":{"text":{"field":"label"},"color":{"field":"series","type":"nominal"}}},
{"data":{"values":[{"dT":6.1,"v":47.2,"label":"σ"},{"dT":6.2,"v":-21.3,"label":"σ"}]},"mark":{"type":"text","fontSize":29,"fontWeight":"bold","baseline":"middle","color":"#000"},"encoding":{"text":{"field":"label"}}},
{"data":{"values":[{"dT":6.58,"v":51,"label":"+"},{"dT":6.62,"v":-19,"label":"-"}]},"mark":{"type":"text","fontSize":21,"fontWeight":"bold","baseline":"middle","color":"#000"},"encoding":{"text":{"field":"label"}}}
]},
{"width":300,"height":323,"encoding":{"x":{"field":"x","type":"quantitative","axis":null,"scale":{"domain":[0,900],"range":[-0.7,299.3],"nice":false,"zero":false}},"y":{"field":"y","type":"quantitative","axis":null,"scale":{"domain":[0,960],"range":[36.3,356.3],"nice":false,"zero":false}},"size":{"field":"kind","type":"nominal","scale":{"type":"ordinal","domain":["tag","lo","hi","sub","big","v","ax","grad","sigma","sup"],"range":[30,24,24,16,25,29,18,24,29,21]}}},
"layer":[
{"data":{"name":"geom"},"mark":"rect","encoding":{"size":null,"x2":{"field":"x2"},"y2":{"field":"y2"},"fill":{"field":"part","type":"nominal","scale":{"domain":["sub","pad","conn","even","odd"],"range":["#a3a3a3","#fff","#000","#fff","#000"]}}}},
{"data":{"name":"halo"},"transform":[{"filter":"datum.panel=='f'"}],"mark":{"type":"rect","color":{"gradient":"linear","x1":0,"x2":1,"y1":0,"y2":0,"stops":[{"offset":0,"color":"rgba(255,255,255,0)"},{"offset":0.5,"color":"rgba(255,255,255,0.35)"},{"offset":1,"color":"rgba(255,255,255,0)"}]}},"encoding":{"size":null,"x2":{"field":"x2"},"y2":{"field":"y2"}}},
{"data":{"name":"bar"},"mark":{"type":"area","color":{"gradient":"linear","x1":0,"x2":1,"y1":0,"y2":0,"stops":[{"offset":0,"color":"#0c70bd"},{"offset":0.25,"color":"#3d5a9f"},{"offset":0.5,"color":"#7d3a68"},{"offset":0.75,"color":"#d4142c"},{"offset":1,"color":"#ff0000"}]}},"encoding":{"size":null,"y2":{"field":"y2"}}},
{"data":{"name":"stripes"},"mark":{"type":"rect","color":"#fff"},"encoding":{"size":null,"x2":{"field":"x2"},"y2":{"field":"y2"}}},
{"data":{"name":"wire"},"transform":[{"filter":"datum.panel=='f'"}],"mark":{"type":"line","color":"#222","strokeWidth":1.6},"encoding":{"size":null,"order":{"field":"o"}}},
{"data":{"name":"meter"},"transform":[{"filter":"datum.panel=='f'"}],"mark":{"type":"circle","size":880,"fill":"#fff","stroke":"#222","strokeWidth":1.6,"opacity":1},"encoding":{"size":null}},
{"data":{"name":"terminals"},"transform":[{"filter":"datum.panel=='f'"}],"mark":{"type":"circle","size":314,"opacity":1,"fill":{"gradient":"radial","x1":0.5,"y1":0.5,"x2":0.5,"y2":0.5,"r1":0,"r2":0.5,"stops":[{"offset":0,"color":"#666"},{"offset":0.55,"color":"#222"},{"offset":1,"color":"#000"}]}},"encoding":{"size":null}},
{"data":{"name":"moment"},"transform":[{"filter":"datum.panel=='f'"}],"mark":{"type":"rule","strokeWidth":2},"encoding":{"size":null,"x2":{"field":"x2"},"y2":{"field":"y2"},"color":{"field":"kind","type":"nominal"}}},
{"data":{"name":"moment"},"transform":[{"filter":"datum.panel=='f'"}],"mark":{"type":"point","shape":"M0,0L0.27,2L-0.27,2Z","filled":true,"opacity":1,"size":400},"encoding":{"size":null,"x":{"field":"x2","type":"quantitative","axis":null},"y":{"field":"y2","type":"quantitative","axis":null},"angle":{"field":"angle","type":"quantitative","scale":null},"color":{"field":"kind","type":"nominal"}}},
{"data":{"name":"spins"},"transform":[{"filter":"datum.panel=='f'"}],"mark":{"type":"circle","size":40,"fill":"#fff","stroke":"#555","strokeWidth":1,"opacity":1},"encoding":{"size":null}},
{"data":{"name":"spins"},"transform":[{"filter":"datum.panel=='f'"}],"mark":{"type":"point","size":14,"filled":true,"opacity":1,"color":"#555","angle":45},"encoding":{"size":null,"shape":{"field":"k","type":"nominal","scale":{"domain":["dot","cross"],"range":["circle","cross"]}}}},
{"data":{"name":"beams"},"transform":[{"filter":"datum.panel=='f'"}],"mark":{"type":"rule","strokeWidth":2.5,"strokeDash":[7,3]},"encoding":{"size":null,"x2":{"field":"x2"},"y2":{"field":"y2"},"color":{"field":"kind","type":"nominal"}}},
{"data":{"name":"beams"},"transform":[{"filter":"datum.panel=='f'"}],"mark":{"type":"point","shape":"M0,0L0.8,1.6L0,1.1L-0.8,1.6Z","filled":true,"opacity":1,"size":200},"encoding":{"size":null,"x":{"field":"x2","type":"quantitative","axis":null},"y":{"field":"y2","type":"quantitative","axis":null},"angle":{"field":"angle","type":"quantitative","scale":null},"color":{"field":"kind","type":"nominal"}}},
{"data":{"name":"discs"},"transform":[{"filter":"datum.panel=='f'"}],"mark":{"type":"circle","size":1052,"opacity":1},"encoding":{"size":null,"color":{"field":"kind","type":"nominal"}}},
{"data":{"name":"labels"},"transform":[{"filter":"datum.panel=='f'"}],"mark":{"type":"text","baseline":"middle"},"encoding":{"text":{"field":"label"},"color":{"field":"kind","type":"nominal","scale":{"domain":["tag","lo","hi","sub","big","v","ax","grad","sigma","sup","black","white","red","blue"],"range":["#111","#4472c4","#ff0000","#222","#000","#000","#222","#222","#000","#000","#000","#fff","#ff0000","#4472c4"]}}}},
{"data":{"name":"labelsItalic"},"transform":[{"filter":"datum.panel=='f'"}],"mark":{"type":"text","baseline":"middle","fontStyle":"italic"},"encoding":{"text":{"field":"label"},"color":{"field":"kind","type":"nominal"}}},
{"data":{"name":"labelsBold"},"transform":[{"filter":"datum.panel=='f'"}],"mark":{"type":"text","baseline":"middle","fontWeight":"bold"},"encoding":{"text":{"field":"label"},"color":{"field":"kind","type":"nominal"}}}
]},
{"width":294,"height":323,"encoding":{"x":{"field":"dT","type":"quantitative","scale":{"domain":[0.5,9.32],"nice":false,"zero":false},"axis":{"title":null,"values":[1,1.5,2,2.5,3,3.5,4,4.5,5,5.5,6,6.5,7,7.5,8,8.5,9],"labelExpr":"datum.value%1===0?toString(datum.value):''","tickSize":{"condition":{"test":"datum.value%1!==0","value":3},"value":6}}},"y":{"field":"v","type":"quantitative","scale":{"domain":[-60,60],"range":[323,83],"nice":false,"zero":false},"axis":{"title":"ANE voltage (μV)","titleBaseline":"middle","titleX":-45,"titleY":204,"values":[-60,-50,-40,-30,-20,-10,0,10,20,30,40,50,60],"labelExpr":"datum.value%20===0?toString(datum.value):''","tickSize":{"condition":{"test":"datum.value%20!==0","value":3},"value":6}}}},
"layer":[
{"data":{"name":"edges"},"mark":{"type":"line","color":"#000","strokeWidth":2.5},"encoding":{"detail":{"field":"v","type":"quantitative"}}},
{"data":{"name":"fits"},"transform":[{"filter":"datum.panel=='h'"}],"mark":{"type":"line","strokeWidth":1.7},"encoding":{"color":{"field":"series","type":"nominal","scale":{"domain":["sigma+","sigma-"],"range":["#ff0000","#0a0a96"]}}}},
{"data":{"name":"pts"},"transform":[{"filter":"datum.panel=='h'&&datum.series=='sigma+'"}],"mark":{"type":"circle","size":190,"opacity":1,"fill":{"gradient":"radial","x1":0.55,"y1":0.42,"x2":0.55,"y2":0.42,"r1":0,"r2":0.55,"stops":[{"offset":0,"color":"#ffd8d8"},{"offset":0.4,"color":"#ff2a2a"},{"offset":1,"color":"#f00000"}]}}},
{"data":{"name":"pts"},"transform":[{"filter":"datum.panel=='h'&&datum.series=='sigma-'"}],"mark":{"type":"circle","size":190,"opacity":1,"fill":{"gradient":"radial","x1":0.55,"y1":0.38,"x2":0.55,"y2":0.38,"r1":0,"r2":0.55,"stops":[{"offset":0,"color":"#c8c8f0"},{"offset":0.35,"color":"#14149c"},{"offset":1,"color":"#00008b"}]}}},
{"data":{"values":[{"dT":6.49,"v":39.5}]},"mark":{"type":"circle","size":1098,"opacity":1,"color":"#ff0000"}},
{"data":{"values":[{"dT":6.56,"v":-40.5}]},"mark":{"type":"circle","size":1098,"opacity":1,"color":"#4472c4"}},
{"data":{"values":[{"dT":0.9,"v":72.6,"label":"(h)"}]},"mark":{"type":"text","fontSize":30,"baseline":"middle","color":"#111"},"encoding":{"text":{"field":"label"}}},
{"data":{"name":"xTitle"},"mark":{"type":"text","fontSize":23,"baseline":"middle","color":"#111"},"encoding":{"text":{"field":"label"}}},
{"data":{"name":"xTitleT"},"mark":{"type":"text","fontSize":23,"baseline":"middle","fontStyle":"italic","color":"#111"},"encoding":{"text":{"field":"label"}}},
{"data":{"values":[{"dT":3.2,"v":39.2,"label":"AOS design with","series":"sigma+"},{"dT":3.23,"v":-40.9,"label":"AOS design with","series":"sigma-"}]},"mark":{"type":"text","fontSize":23,"baseline":"middle"},"encoding":{"text":{"field":"label"},"color":{"field":"series","type":"nominal"}}},
{"data":{"values":[{"dT":6.35,"v":37.5,"label":"σ"},{"dT":6.5,"v":-40.5,"label":"σ"}]},"mark":{"type":"text","fontSize":29,"fontWeight":"bold","baseline":"middle","color":"#000"},"encoding":{"text":{"field":"label"}}},
{"data":{"values":[{"dT":6.8,"v":42,"label":"+"},{"dT":6.88,"v":-38,"label":"-"}]},"mark":{"type":"text","fontSize":21,"fontWeight":"bold","baseline":"middle","color":"#000"},"encoding":{"text":{"field":"label"}}}
]}
]}
